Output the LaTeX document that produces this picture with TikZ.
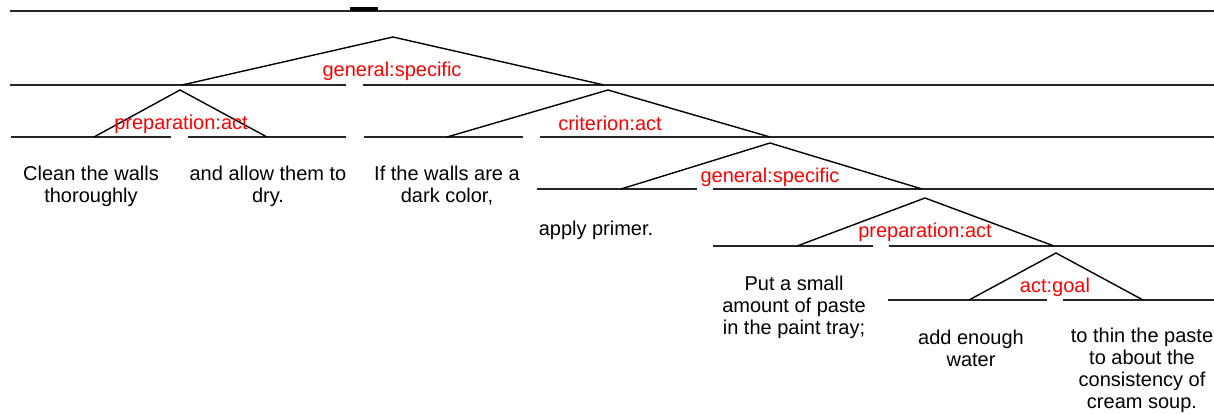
\documentclass[tikz,border=0pt]{standalone}
\usepackage{fontspec}
\setmainfont{Liberation Sans}
\usepackage{xcolor}

\begin{document}
\begin{tikzpicture}[x=0.5pt,y=-0.5pt,
  span/.style={line width=0.8pt,black!85},
  leg/.style={line width=0.7pt},
  rel/.style={text=red,inner sep=0pt,font=\fontsize{10}{11}\selectfont},
  seg/.style={align=center,inner sep=0pt,anchor=north,font=\fontsize{10}{11}\selectfont}]
\useasboundingbox (0,0) rectangle (1214,413);
% \draw[help lines] (0,0) grid[step=100] (1214,413);
\draw[span] (10,11) -- (1214,11);
\draw[line width=2pt] (350,9) -- (378,9);
%
\foreach \y/\xa/\xb in {85/10/346, 85/363/1214,
    137/11/171, 137/188/346, 137/364/523, 137/540/1214,
    189/537/697, 189/713/1214,
    246/713/873, 246/889/1214,
    300/888/1047, 300/1063/1214}
  \draw[span] (\xa,\y) -- (\xb,\y);
%
\coordinate (a1) at (393,37);
\coordinate (a1l) at (182,85);
\coordinate (a1r) at (604,85);
\coordinate (a2) at (180,90);
\coordinate (a2l) at (94,137);
\coordinate (a2r) at (267,137);
\coordinate (a3) at (608,90);
\coordinate (a3l) at (447,137);
\coordinate (a3r) at (770,137);
\coordinate (a4) at (770,143);
\coordinate (a4l) at (621,189);
\coordinate (a4r) at (922,189);
\coordinate (a5) at (925,198);
\coordinate (a5l) at (797,246);
\coordinate (a5r) at (1054,246);
\coordinate (a6) at (1056,253);
\coordinate (a6l) at (969,300);
\coordinate (a6r) at (1143,300);
%
\draw[leg] (a1l) -- (a1) -- (a1r);
\draw[leg] (a2l) -- (a2) -- (a2r);
\draw[leg] (a3l) -- (a3) -- (a3r);
\draw[leg] (a4l) -- (a4) -- (a4r);
\draw[leg] (a5l) -- (a5) -- (a5r);
\draw[leg] (a6l) -- (a6) -- (a6r);
%
\node (r1) [rel] at (392,71) {general:specific};
\node (r2) [rel] at (181,124) {preparation:act};
\node (r3) [rel] at (610,123) {criterion:act};
\node (r4) [rel] at (770,177) {general:specific};
\node (r5) [rel] at (925,232) {preparation:act};
\node (r6) [rel] at (1055,287) {act:goal};
%
\node (t1) [seg] at (91,166) {Clean the walls\\thoroughly};
\node (t2) [seg] at (268,166) {and allow them to\\dry.};
\node (t3) [seg] at (447,166) {If the walls are a\\dark color,};
\node (t4) [seg] at (596,221) {apply primer.};
\node (t5) [seg] at (794,276) {Put a small\\amount of paste\\in the paint tray;};
\node (t6) [seg] at (971,330) {add enough\\water};
\node (t7) [seg] at (1142,328) {to thin the paste\\to about the\\consistency of\\cream soup.};
\end{tikzpicture}
\end{document}
